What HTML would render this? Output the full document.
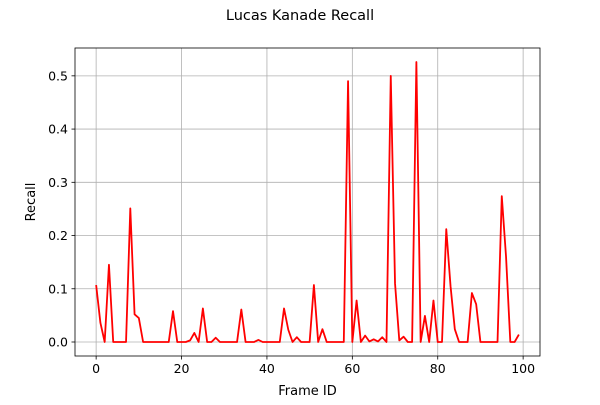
<!DOCTYPE html>
<html><head><meta charset="utf-8"><style>
body{margin:0;background:#fff;font-family:"Liberation Sans","DejaVu Sans",sans-serif}
</style></head><body>
<svg id="chart" width="600" height="400" xmlns="http://www.w3.org/2000/svg" font-family="DejaVu Sans, Liberation Sans, sans-serif"></svg>
<script>
const frameIds = Array.from({length:100},(_,i)=>i);
const recallValues = [0.107,0.036,0,0.145,0,0,0,0,0.251,0.052,
0.045,0,0,0,0,0,0,0,0.058,0,
0,0,0.003,0.017,0,0.063,0,0,0.008,0,
0,0,0,0,0.061,0,0,0,0.004,0,
0,0,0,0,0.063,0.023,0,0.009,0,0,
0,0.107,0,0.024,0,0,0,0,0,0.49,
0,0.078,0,0.012,0.001,0.005,0.001,0.009,0,0.5,
0.11,0.003,0.01,0,0,0.526,0,0.049,0,0.078,
0,0,0.212,0.105,0.024,0,0,0,0.092,0.071,
0,0,0,0,0,0.274,0.16,0,0,0.014];
const xTicks = [0,20,40,60,80,100];
const yTicks = [0,0.1,0.2,0.3,0.4,0.5];
const yTickLabels = ["0.0","0.1","0.2","0.3","0.4","0.5"];

const L=75,R=540,T=48,B=356;
const xmin=-4.95,xmax=103.95,ymin=-0.0263,ymax=0.5523;
const sx=v=>L+(v-xmin)/(xmax-xmin)*(R-L);
const sy=v=>B-(v-ymin)/(ymax-ymin)*(B-T);
const svg=document.getElementById('chart');
const NS='http://www.w3.org/2000/svg';
function mk(tag,attrs,parent){const e=document.createElementNS(NS,tag);for(const k in attrs)e.setAttribute(k,attrs[k]);(parent||svg).appendChild(e);return e;}

let t=mk('text',{x:300,y:20,'text-anchor':'middle','font-size':14.5});t.textContent='Lucas Kanade Recall';



xTicks.forEach(v=>{const x=sx(v);
 let g=mk('line',{x1:x,x2:x,y1:T,y2:B,stroke:'#b0b0b0','stroke-width':0.8});
 
 
 mk('line',{x1:x,x2:x,y1:B,y2:B+3.5,stroke:'#000','stroke-width':0.8});
 let l=mk('text',{x:x,y:B+17,'text-anchor':'middle','font-size':12.5});l.textContent=v;
 
 
});
yTicks.forEach((v,i)=>{const y=sy(v);
 let g=mk('line',{x1:L,x2:R,y1:y,y2:y,stroke:'#b0b0b0','stroke-width':0.8});
 
 
 mk('line',{x1:L-3.5,x2:L,y1:y,y2:y,stroke:'#000','stroke-width':0.8});
 let l=mk('text',{x:L-7,y:y+4.5,'text-anchor':'end','font-size':12.5});l.textContent=yTickLabels[i];
 
 
});
const pts=frameIds.map((f,i)=>sx(f).toFixed(2)+','+sy(recallValues[i]).toFixed(2)).join(' ');
let line=mk('polyline',{points:pts,fill:'none',stroke:'#ff0000','stroke-width':1.8,'stroke-linejoin':'round'});


let fr=mk('rect',{x:L,y:T,width:R-L,height:B-T,fill:'none',stroke:'#000','stroke-width':0.8});


let xl=mk('text',{x:(L+R)/2,y:395,'text-anchor':'middle','font-size':13});xl.textContent='Frame ID';


let yl=mk('text',{x:0,y:0,'text-anchor':'middle','font-size':13,transform:'translate(35,'+((T+B)/2)+') rotate(-90)'});yl.textContent='Recall';


</script>
</body></html>
